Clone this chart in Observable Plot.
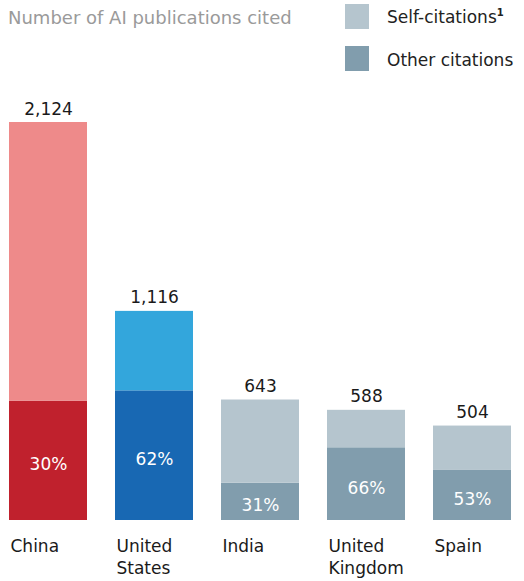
<!DOCTYPE html>
<html>
<head>
<meta charset="utf-8">
<script src="https://cdn.jsdelivr.net/npm/d3@7"></script>
<script src="https://cdn.jsdelivr.net/npm/@observablehq/plot@0.6"></script>
<style>
  body { margin: 0; background: #fff; font-family: "DejaVu Sans", sans-serif; }
  #header { position: relative; width: 524px; height: 90px; }
  #header div { position: absolute; white-space: nowrap; line-height: 24px; }
  .sw { width: 24px; height: 25px; }
  .lt { font-size: 17px; color: #222; }
  .title { font-size: 18px; color: #9a9a9a; }
  sup { font-size: 10px; vertical-align: 7px; line-height: 0; font-weight: bold; }
  #chart svg { overflow: visible; }
</style>
</head>
<body>
<div id="header">
  <div class="title" style="left:8px; top:6px;">Number of AI publications cited</div>
  <div class="sw" style="left:345px; top:4px; background:#b5c5ce;"></div>
  <div class="lt" style="left:387px; top:5px;">Self-citations<sup>1</sup></div>
  <div class="sw" style="left:345px; top:46px; background:#819dad;"></div>
  <div class="lt" style="left:387px; top:48px;">Other citations</div>
</div>
<div id="chart"></div>
<script>
const countries = ["China", "United States", "India", "United Kingdom", "Spain"];
const countryLabels = ["China", "United\nStates", "India", "United\nKingdom", "Spain"];
const totals = [2124, 1116, 643, 588, 504];
const otherShare = [30, 62, 31, 66, 53];
const selfColors = ["#ee8a8a", "#33a6dc", "#b5c5ce", "#b5c5ce", "#b5c5ce"];
const otherColors = ["#c0212d", "#1868b3", "#819dad", "#819dad", "#819dad"];

const rows = [];
countries.forEach((c, i) => {
  const other = totals[i] * otherShare[i] / 100;
  rows.push({country: c, type: "Other citations", value: other, color: otherColors[i]});
  rows.push({country: c, type: "Self-citations", value: totals[i] - other, color: selfColors[i]});
});
const summary = countries.map((c, i) => ({
  country: c, total: totals[i], share: otherShare[i], other: totals[i] * otherShare[i] / 100
}));
const labelOf = new Map(countries.map((c, i) => [c, countryLabels[i]]));

const chart = Plot.plot({
  width: 524,
  height: 491,
  marginTop: 32,
  marginBottom: 61,
  marginLeft: 8,
  marginRight: 11,
  style: {fontFamily: "DejaVu Sans, sans-serif", fontSize: "17px", background: "#fff"},
  x: {domain: countries, paddingInner: 0.26, paddingOuter: 0, axis: null, label: null},
  y: {domain: [0, 2124], axis: null},
  marks: [
    Plot.barY(rows, {x: "country", y: "value", fill: "color"}),
    Plot.text(summary, {
      x: "country", y: "total", text: d => d3.format(",")(d.total),
      lineAnchor: "bottom", dy: -8, fill: "#1a1a1a", fontSize: 17
    }),
    Plot.text(summary, {
      x: "country", y: d => d.other / 2, text: d => d.share + "%",
      lineAnchor: "middle", dy: 4, fill: "#fff", fontSize: 17
    }),
    Plot.axisX({
      tickSize: 0, tickPadding: 16, textAnchor: "start", dx: -38, label: null,
      tickFormat: d => labelOf.get(d), fontSize: 17, lineHeight: 1.28, color: "#1a1a1a"
    })
  ]
});
document.getElementById("chart").appendChild(chart);
</script>
</body>
</html>
